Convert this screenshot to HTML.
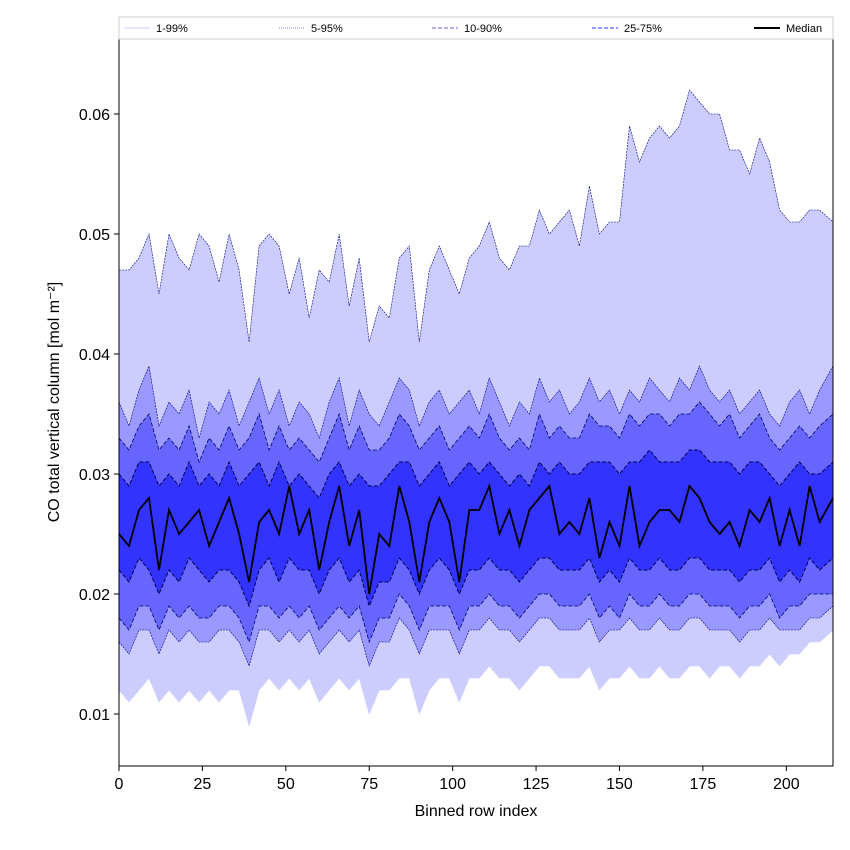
<!DOCTYPE html>
<html><head><meta charset="utf-8"><style>
body{margin:0;background:#fff;font-family:"Liberation Sans","DejaVu Sans",sans-serif}
svg{display:block}
</style></head><body>
<svg id="chart" width="850" height="850">
<rect width="850" height="850" fill="#fff"/>
<g id="bands"></g>
<g id="lines"></g>
<rect x="119" y="39" width="714" height="727" fill="none" stroke="#000" stroke-width="1"/>
<g id="xticks"></g>
<g id="yticks"></g>
<text x="476" y="816" font-size="16" text-anchor="middle">Binned row index</text>
<text transform="translate(59,402) rotate(-90)" font-size="16" text-anchor="middle">CO total vertical column [mol m⁻²]</text>
<g>
<rect x="119" y="17" width="714" height="22" fill="#fff" stroke="#ccc"/>
<g><line x1="124" y1="28" x2="150" y2="28" stroke="#ccccff" stroke-width="1"/><text x="156" y="32" font-size="11">1-99%</text></g>
<g><line x1="279" y1="28" x2="305" y2="28" stroke="#000080" stroke-width="0.5" stroke-dasharray="1,1"/><text x="311" y="32" font-size="11">5-95%</text></g>
<g><line x1="432" y1="28" x2="458" y2="28" stroke="#6666cc" stroke-width="1" stroke-dasharray="4,2"/><text x="464" y="32" font-size="11">10-90%</text></g>
<g><line x1="592" y1="28" x2="618" y2="28" stroke="#3333ff" stroke-width="1" stroke-dasharray="4,2"/><text x="624" y="32" font-size="11">25-75%</text></g>
<g><line x1="754" y1="28" x2="780" y2="28" stroke="#000" stroke-width="2"/><text x="786" y="32" font-size="11">Median</text></g>
</g>
</svg>
<script>
const xIndex=[0,3,6,9,12,15,18,21,24,27,30,33,36,39,42,45,48,51,54,57,60,63,66,69,72,75,78,81,84,87,90,93,96,99,102,105,108,111,114,117,120,123,126,129,132,135,138,141,144,147,150,153,156,159,162,165,168,171,174,177,180,183,186,189,192,195,198,201,204,207,210,214];
const p99=[0.047,0.047,0.048,0.050,0.045,0.050,0.048,0.047,0.050,0.049,0.046,0.050,0.047,0.041,0.049,0.050,0.049,0.045,0.048,0.043,0.047,0.046,0.050,0.044,0.048,0.041,0.044,0.043,0.048,0.049,0.041,0.047,0.049,0.047,0.045,0.048,0.049,0.051,0.048,0.047,0.049,0.049,0.052,0.050,0.051,0.052,0.049,0.054,0.050,0.051,0.051,0.059,0.056,0.058,0.059,0.058,0.059,0.062,0.061,0.060,0.060,0.057,0.057,0.055,0.058,0.056,0.052,0.051,0.051,0.052,0.052,0.051];
const p95=[0.036,0.034,0.037,0.039,0.034,0.036,0.035,0.037,0.033,0.036,0.035,0.037,0.034,0.036,0.038,0.035,0.037,0.034,0.036,0.035,0.033,0.036,0.038,0.034,0.037,0.035,0.034,0.036,0.038,0.037,0.034,0.036,0.037,0.035,0.036,0.037,0.035,0.038,0.036,0.034,0.036,0.035,0.038,0.036,0.037,0.035,0.036,0.038,0.036,0.037,0.035,0.037,0.036,0.038,0.037,0.036,0.038,0.037,0.039,0.037,0.036,0.037,0.035,0.036,0.037,0.035,0.034,0.036,0.037,0.035,0.037,0.039];
const p90=[0.033,0.032,0.034,0.035,0.032,0.033,0.032,0.034,0.031,0.033,0.032,0.034,0.032,0.033,0.035,0.032,0.034,0.032,0.033,0.032,0.031,0.033,0.035,0.032,0.034,0.032,0.032,0.033,0.035,0.034,0.032,0.033,0.034,0.032,0.033,0.034,0.033,0.035,0.033,0.032,0.033,0.032,0.035,0.033,0.034,0.033,0.033,0.035,0.034,0.034,0.033,0.035,0.034,0.035,0.035,0.034,0.035,0.035,0.036,0.035,0.034,0.035,0.033,0.034,0.035,0.033,0.032,0.033,0.034,0.033,0.034,0.035];
const p75=[0.030,0.029,0.031,0.031,0.029,0.030,0.029,0.031,0.029,0.030,0.029,0.031,0.029,0.030,0.031,0.029,0.031,0.029,0.030,0.029,0.028,0.030,0.031,0.029,0.030,0.029,0.029,0.030,0.031,0.031,0.029,0.030,0.031,0.029,0.030,0.031,0.030,0.031,0.030,0.029,0.030,0.029,0.031,0.030,0.031,0.030,0.030,0.031,0.031,0.031,0.030,0.031,0.031,0.032,0.031,0.031,0.031,0.032,0.032,0.031,0.031,0.031,0.030,0.031,0.031,0.030,0.029,0.030,0.031,0.030,0.030,0.031];
const median=[0.025,0.024,0.027,0.028,0.022,0.027,0.025,0.026,0.027,0.024,0.026,0.028,0.025,0.021,0.026,0.027,0.025,0.029,0.025,0.027,0.022,0.026,0.029,0.024,0.027,0.020,0.025,0.024,0.029,0.026,0.021,0.026,0.028,0.026,0.021,0.027,0.027,0.029,0.025,0.027,0.024,0.027,0.028,0.029,0.025,0.026,0.025,0.028,0.023,0.026,0.024,0.029,0.024,0.026,0.027,0.027,0.026,0.029,0.028,0.026,0.025,0.026,0.024,0.027,0.026,0.028,0.024,0.027,0.024,0.029,0.026,0.028];
const p25=[0.022,0.021,0.023,0.022,0.020,0.022,0.021,0.023,0.022,0.021,0.022,0.022,0.021,0.019,0.022,0.023,0.021,0.023,0.022,0.022,0.020,0.022,0.023,0.021,0.022,0.019,0.021,0.021,0.023,0.022,0.020,0.022,0.023,0.022,0.020,0.022,0.022,0.023,0.022,0.022,0.021,0.022,0.023,0.023,0.022,0.022,0.022,0.023,0.021,0.022,0.021,0.023,0.022,0.022,0.023,0.022,0.022,0.023,0.023,0.022,0.022,0.022,0.021,0.022,0.022,0.023,0.021,0.022,0.021,0.023,0.022,0.023];
const p10=[0.018,0.017,0.019,0.019,0.017,0.019,0.018,0.019,0.018,0.018,0.019,0.019,0.018,0.016,0.019,0.019,0.018,0.019,0.018,0.019,0.017,0.018,0.019,0.018,0.019,0.016,0.018,0.018,0.020,0.019,0.017,0.019,0.019,0.019,0.017,0.019,0.019,0.020,0.019,0.019,0.018,0.019,0.020,0.020,0.019,0.019,0.019,0.020,0.018,0.019,0.018,0.020,0.019,0.019,0.020,0.019,0.019,0.020,0.020,0.019,0.019,0.019,0.018,0.019,0.019,0.020,0.018,0.019,0.019,0.020,0.020,0.020];
const p5=[0.016,0.015,0.017,0.017,0.015,0.017,0.016,0.017,0.016,0.016,0.017,0.017,0.016,0.014,0.017,0.017,0.016,0.017,0.016,0.017,0.015,0.016,0.017,0.016,0.017,0.014,0.016,0.016,0.018,0.017,0.015,0.017,0.017,0.017,0.015,0.017,0.017,0.018,0.017,0.017,0.016,0.017,0.018,0.018,0.017,0.017,0.017,0.018,0.016,0.017,0.017,0.018,0.017,0.017,0.018,0.017,0.017,0.018,0.018,0.017,0.017,0.017,0.016,0.017,0.017,0.018,0.017,0.017,0.017,0.018,0.018,0.019];
const p1=[0.012,0.011,0.012,0.013,0.011,0.012,0.011,0.012,0.011,0.012,0.011,0.012,0.012,0.009,0.012,0.013,0.012,0.013,0.012,0.013,0.011,0.012,0.013,0.012,0.013,0.010,0.012,0.012,0.013,0.013,0.010,0.012,0.013,0.013,0.011,0.013,0.013,0.014,0.013,0.013,0.012,0.013,0.014,0.014,0.013,0.013,0.013,0.014,0.012,0.013,0.013,0.014,0.013,0.013,0.014,0.013,0.013,0.014,0.014,0.013,0.014,0.014,0.013,0.014,0.014,0.015,0.014,0.015,0.015,0.016,0.016,0.017];
const xTicks=[0,25,50,75,100,125,150,175,200];
const yTicks=[0.01,0.02,0.03,0.04,0.05,0.06];

const X0=119,X1=833,Y0=39,Y1=766,xMin=0,xMax=214,yMin=0.00567,yMax=0.06625;
const sx=v=>X0+(v-xMin)/(xMax-xMin)*(X1-X0);
const sy=v=>Y1-(v-yMin)/(yMax-yMin)*(Y1-Y0);
const NS='http://www.w3.org/2000/svg';
function pts(arr){return arr.map((v,i)=>sx(xIndex[i]).toFixed(1)+','+sy(v).toFixed(1));}
const bands=document.getElementById('bands');
[[p1,p99,'#ccccff','band-1-99'],[p5,p95,'#9999ff','band-5-95'],[p10,p90,'#6666ff','band-10-90'],[p25,p75,'#3333ff','band-25-75']].forEach(b=>{
  const p=document.createElementNS(NS,'polygon');
  p.setAttribute('points',pts(b[1]).concat(pts(b[0]).reverse()).join(' '));
  p.setAttribute('fill',b[2]);
  
  
  bands.appendChild(p);
});
const lines=document.getElementById('lines');
[[p99,'#000080',0.6,'2,1','line-p99'],[p1,'#ccccff',0.6,'','line-p1'],[p95,'#000080',0.6,'2,1','line-p95'],[p5,'#000080',0.6,'2,1','line-p5'],[p90,'#000066',0.8,'4,2','line-p90'],[p10,'#000066',0.8,'4,2','line-p10'],[p75,'#000050',1,'4,2','line-p75'],[p25,'#000050',1,'4,2','line-p25'],[median,'#000',1.8,'','line-median']].forEach(l=>{
  const p=document.createElementNS(NS,'polyline');
  p.setAttribute('points',pts(l[0]).join(' '));
  p.setAttribute('fill','none');p.setAttribute('stroke',l[1]);p.setAttribute('stroke-width',l[2]);
  if(l[3])p.setAttribute('stroke-dasharray',l[3]);
  
  
  lines.appendChild(p);
});
const xg=document.getElementById('xticks');
xTicks.forEach(t=>{
  const x=sx(t);
  const ln=document.createElementNS(NS,'line');
  ln.setAttribute('x1',x);ln.setAttribute('x2',x);ln.setAttribute('y1',Y1);ln.setAttribute('y2',Y1+5);ln.setAttribute('stroke','#000');
  
  
  xg.appendChild(ln);
  const tx=document.createElementNS(NS,'text');
  tx.setAttribute('x',x);tx.setAttribute('y',Y1+23);tx.setAttribute('font-size','16');tx.setAttribute('text-anchor','middle');
  tx.textContent=t;
  
  
  xg.appendChild(tx);
});
const yg=document.getElementById('yticks');
yTicks.forEach(t=>{
  const y=sy(t);
  const ln=document.createElementNS(NS,'line');
  ln.setAttribute('x1',X0-5);ln.setAttribute('x2',X0);ln.setAttribute('y1',y);ln.setAttribute('y2',y);ln.setAttribute('stroke','#000');
  
  
  yg.appendChild(ln);
  const tx=document.createElementNS(NS,'text');
  tx.setAttribute('x',X0-9);tx.setAttribute('y',y+6);tx.setAttribute('font-size','16');tx.setAttribute('text-anchor','end');
  tx.textContent=t.toFixed(2);
  
  
  yg.appendChild(tx);
});
</script>
</body></html>
